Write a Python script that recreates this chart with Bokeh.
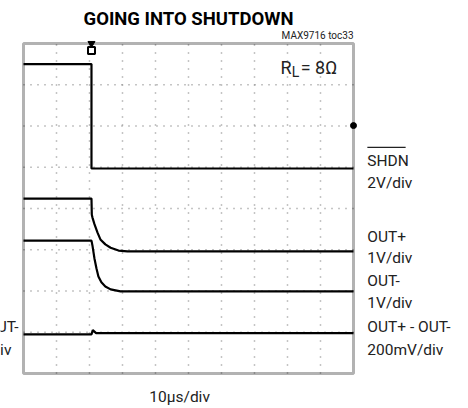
from bokeh.plotting import figure
from bokeh.models import Range1d, Label, BoxAnnotation
from bokeh.embed import file_html
from bokeh.resources import INLINE

# time axis in microseconds (10 us/div), vertical in screen divisions (8 div tall)
t_shdn = [0, 20.6, 20.6, 100]
v_shdn = [7.5, 7.5, 4.97, 4.97]
t_outp = [0, 20.6, 20.7, 20.9, 21.5, 22.4, 23.3, 24.8, 26.4, 28.8, 31.5, 100]
v_outp = [4.24, 4.24, 3.85, 3.78, 3.62, 3.42, 3.25, 3.13, 3.05, 2.98, 2.96, 2.96]
t_outm = [0, 20.6, 20.9, 21.5, 22.1, 22.7, 23.6, 24.8, 26.4, 29.4, 100]
v_outm = [3.22, 3.22, 3.10, 2.79, 2.55, 2.35, 2.21, 2.11, 2.04, 1.99, 1.99]
t_diff = [0, 20.6, 21.0, 22.0, 100]
v_diff = [0.95, 0.95, 1.05, 0.98, 0.98]
x_div = [10, 20, 30, 40, 50, 60, 70, 80, 90]
y_div = [1, 2, 3, 4, 5, 6, 7]
t_span = [0, 100]
v_span = [0, 8]
trig_t = 20.6
trig_level = 6.01

FONT = "Roboto"

p = figure(width=468, height=408, output_backend="svg", toolbar_location=None,
           x_range=Range1d(-6.97, 134.85), y_range=Range1d(-0.848, 9.042),
           min_border=0, x_axis_type=None, y_axis_type=None)
p.outline_line_color = None
p.background_fill_color = "white"
p.border_fill_color = "white"

# graticule
p.segment(x0=x_div, y0=v_span[0], x1=x_div, y1=v_span[1], line_color="#8a8a8a",
          line_width=1.5, line_dash="1 7")
p.segment(x0=t_span[0], y0=y_div, x1=t_span[1], y1=y_div, line_color="#8a8a8a",
          line_width=1.5, line_dash="1 6")

for t, v in [(t_shdn, v_shdn), (t_outp, v_outp), (t_outm, v_outm), (t_diff, v_diff)]:
    p.line(t, v, line_color="black", line_width=2.2)

p.add_layout(BoxAnnotation(left=t_span[0], right=t_span[1], bottom=v_span[0], top=v_span[1],
                           fill_alpha=0, line_color="black", line_width=3))

# trigger markers
p.scatter([trig_t], [v_span[1]], marker="inverted_triangle", size=7, color="black")
p.scatter([trig_t], [7.83], marker="square", size=7, line_color="black", fill_color="white", line_width=2)
p.scatter([t_span[1]], [trig_level], marker="circle", size=6, color="black")

def lab(x, y, text, size=15.5, align="left", style="normal", baseline="middle", color="#222222"):
    p.add_layout(Label(x=x, y=y, text=text, text_font=FONT, text_font_size=f"{size}px",
                       text_align=align, text_baseline=baseline, text_font_style=style,
                       text_color=color))

lab(50, 8.6, "GOING INTO SHUTDOWN", size=18.5, align="center", style="bold", color="black")
lab(100, 8.19, "MAX9716 toc33", size=10, align="right")
lab(77.9, 7.42, "R", size=18)
lab(81.3, 7.3, "L", size=14)
lab(84.0, 7.42, "= 8Ω", size=18)

lab(104.2, 5.16, "SHDN")
p.segment(x0=[104.2], y0=[5.48], x1=[115.8], y1=[5.48], line_color="#222222", line_width=1.2)
lab(104.2, 4.63, "2V/div")
lab(104.2, 3.30, "OUT+")
lab(104.2, 2.79, "1V/div")
lab(104.2, 2.25, "OUT-")
lab(104.2, 1.72, "1V/div")
lab(104.2, 1.12, "OUT+ - OUT-")
lab(104.2, 0.56, "200mV/div")
lab(-26.7, 1.12, "OUT+ - OUT-")
lab(-26.7, 0.56, "200mV/div")
lab(47.3, -0.58, "10µs/div", align="center")

open("out.html", "w").write(file_html(p, INLINE))
